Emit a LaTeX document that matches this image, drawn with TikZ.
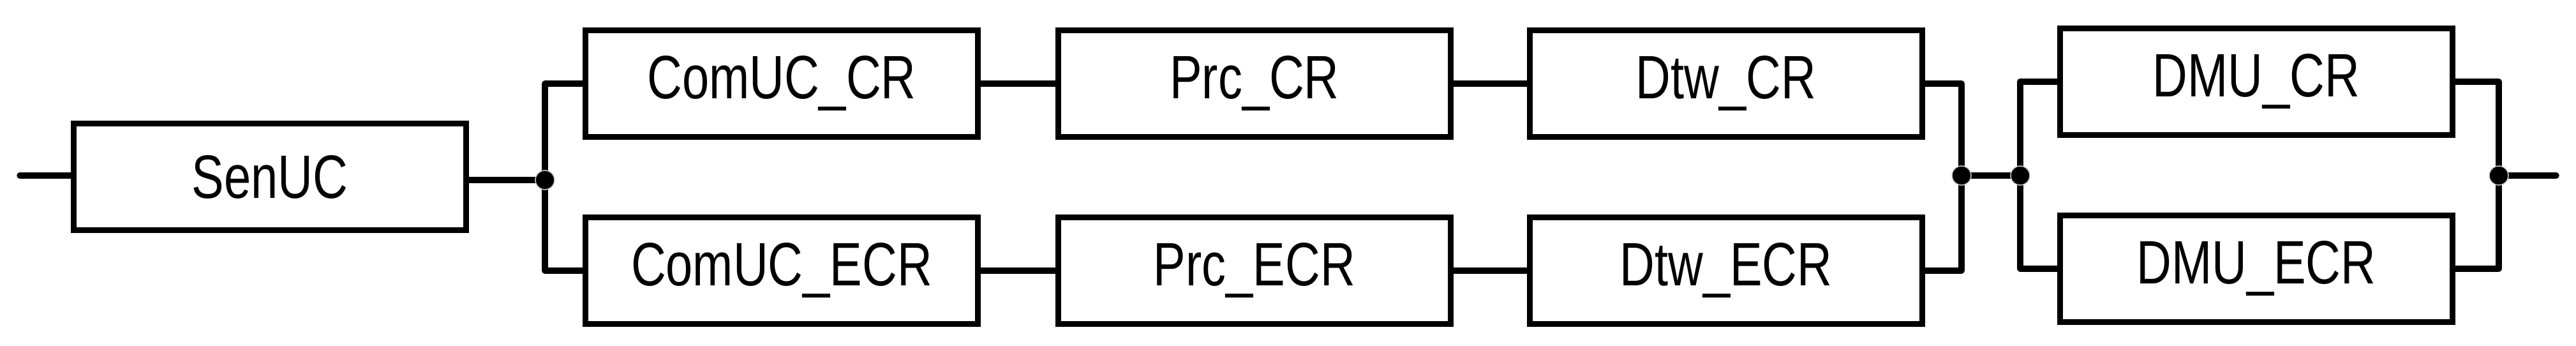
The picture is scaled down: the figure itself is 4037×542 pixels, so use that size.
\documentclass[tikz,border=0pt]{standalone}
\usepackage{fontspec}
\setmainfont[FakeStretch=0.79]{Liberation Sans}
\usepackage{tikz}
\tikzset{
    unit-box/.style = {draw=black, fill=white, line width=0.95pt, rectangle, inner sep=0pt, minimum width=61.5pt, minimum height=16.7pt, font=\fontsize{9.6pt}{11pt}\selectfont},
    junction-dot/.style = {circle, fill=black, draw=gray!40, line width=0.15pt, inner sep=0pt, minimum size=3pt},
    link-line/.style = {line width=0.95pt, line cap=round, line join=round},
}

\begin{document}
\begin{tikzpicture}[x=0.1pt, y=-0.1pt]
\useasboundingbox (0,0) rectangle (4037,542);
% units
\node [unit-box] (senuc) at (423,277) {SenUC};
\node [unit-box] (comcr) at (1225,131) {ComUC\_CR};
\node [unit-box] (comecr) at (1225,424) {ComUC\_ECR};
\node [unit-box] (prccr) at (1966,131) {Prc\_CR};
\node [unit-box] (prcecr) at (1966,424) {Prc\_ECR};
\node [unit-box] (dtwcr) at (2705,131) {Dtw\_CR};
\node [unit-box] (dtwecr) at (2705,424) {Dtw\_ECR};
\node [unit-box] (dmucr) at (3536,128) {DMU\_CR};
\node [unit-box] (dmuecr) at (3536,421) {DMU\_ECR};
% junctions and free ends
\coordinate (in) at (31,275);
\coordinate (j1) at (854,282);
\coordinate (j2) at (3074,275);
\coordinate (j3) at (3166,275);
\coordinate (j4) at (3916,275);
\coordinate (out) at (4006,275);
\draw [link-line] (in) -- (senuc.west |- in);
\draw [link-line] (senuc.east |- j1) -- (j1);
\draw [link-line] (comcr.west) -| (j1) |- (comecr.west);
\draw [link-line] (comcr) -- (prccr) -- (dtwcr);
\draw [link-line] (comecr) -- (prcecr) -- (dtwecr);
\draw [link-line] (dtwcr.east) -| (j2) |- (dtwecr.east);
\draw [link-line] (j2) -- (j3);
\draw [link-line] (dmucr.west) -| (j3) |- (dmuecr.west);
\draw [link-line] (dmucr.east) -| (j4) |- (dmuecr.east);
\draw [link-line] (j4) -- (out);
\foreach \j in {j1,j2,j3,j4}
    \node [junction-dot] (dot-\j) at (\j) {};
\end{tikzpicture}
\end{document}
